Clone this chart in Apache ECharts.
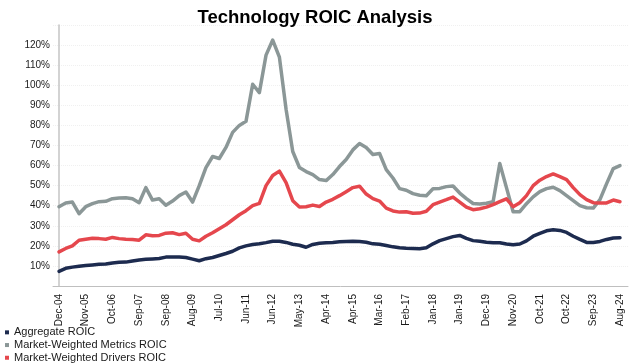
<!DOCTYPE html>
<html>
<head>
<meta charset="utf-8">
<script src="https://cdn.jsdelivr.net/npm/echarts@6/dist/echarts.min.js"></script>
<style>html,body{margin:0;padding:0;background:#fff;}#c{width:630px;height:363px;}</style>
</head>
<body>
<div id="c"></div>
<script>
var tickLabels = ['Dec-04','Nov-05','Oct-06','Sep-07','Sep-08','Aug-09','Jul-10','Jun-11','Jun-12','May-13','Apr-14','Apr-15','Mar-16','Feb-17','Jan-18','Jan-19','Dec-19','Nov-20','Oct-21','Oct-22','Sep-23','Aug-24'];
var pointsPerTick = 4;

var aggregateROIC = [
  7.3, 8.8, 9.4, 9.8, 10.2, 10.5, 10.8, 11.0, 11.5, 11.8,
  11.9, 12.5, 13.0, 13.3, 13.5, 13.7, 14.4, 14.5, 14.5, 14.2,
  13.4, 12.6, 13.6, 14.2, 15.2, 16.2, 17.3, 19.0, 20.0, 20.7,
  21.0, 21.6, 22.3, 22.3, 21.7, 20.8, 20.3, 19.3, 20.7, 21.3,
  21.5, 21.7, 22.0, 22.2, 22.3, 22.2, 21.8, 21.0, 20.8, 20.2,
  19.5, 19.0, 18.8, 18.7, 18.6, 19.0, 21.0, 22.6, 23.6, 24.6,
  25.2, 23.7, 22.6, 22.3, 21.8, 21.6, 21.5, 20.9, 20.5, 20.9,
  22.5, 24.8, 26.2, 27.5, 28.0, 27.7, 26.7, 24.8, 23.2, 21.7,
  21.7, 22.2, 23.2, 23.9, 24.0
];
var metricsROIC = [
  39.5, 41.3, 41.8, 36.0, 39.5, 41.0, 42.0, 42.2, 43.5, 43.8,
  44.0, 43.5, 41.5, 49.0, 42.8, 43.5, 40.2, 42.3, 45.0, 46.8,
  41.8, 50.0, 59.0, 64.5, 63.5, 69.0, 76.5, 80.0, 82.0, 100.5,
  96.3, 115.0, 122.5, 114.0, 88.0, 67.0, 59.0, 57.0, 55.5, 53.0,
  52.5, 55.5, 59.5, 63.0, 67.8, 71.0, 69.0, 65.5, 66.0, 58.0,
  53.8, 48.5, 47.7, 46.0, 45.2, 45.0, 48.4, 48.6, 49.5, 49.8,
  46.3, 43.5, 41.1, 40.9, 41.2, 42.0, 61.0, 49.0, 37.0, 37.0,
  41.0, 44.4, 47.0, 48.5, 49.2, 47.5, 45.0, 42.5, 40.0, 39.0,
  38.8, 43.0, 51.0, 58.5, 60.0
];
var driversROIC = [
  17.0, 18.7, 20.0, 22.8, 23.3, 23.8, 23.6, 23.3, 24.2, 23.6,
  23.3, 23.2, 22.8, 25.5, 25.0, 25.2, 26.3, 26.5, 25.6, 26.3,
  23.3, 22.5, 24.8, 26.5, 28.5, 30.5, 33.0, 35.5, 37.5, 40.0,
  41.2, 50.0, 55.0, 57.2, 51.5, 42.5, 39.3, 39.5, 40.3, 39.6,
  41.8, 43.2, 45.0, 47.0, 49.0, 49.7, 45.8, 43.5, 42.3, 38.8,
  37.4, 36.8, 37.0, 36.2, 36.3, 37.2, 40.5, 41.8, 43.0, 44.3,
  41.8, 39.3, 38.0, 38.5, 39.3, 40.5, 42.0, 43.4, 39.5, 41.5,
  45.0, 50.0, 52.7, 54.5, 55.8, 54.5, 53.0, 49.0, 45.5, 43.0,
  41.5, 41.4, 41.4, 42.8, 42.0
];

function pairs(arr){ return arr.map(function(v,i){ return [i, v]; }); }
var tickPositions = tickLabels.map(function(_, k){ return k * pointsPerTick; });

var FONT = 'Liberation Sans, Arial, sans-serif';
var chart = echarts.init(document.getElementById('c'), null, {renderer:'canvas'});
chart.setOption({
  animation: false,
  backgroundColor: '#ffffff',
  title: {
    text: 'Technology ROIC Analysis',
    left: 'center', top: 3,
    textStyle: {fontFamily: FONT, fontSize: 18.5, fontWeight: 'bold', color: '#000'}
  },
  legend: {
    orient: 'vertical', left: 5, top: 326, height: 60, padding: 0,
    itemWidth: 4, itemHeight: 4, itemGap: 0,
    icon: 'rect',
    textStyle: {fontFamily: FONT, fontSize: 11, color: '#1a1a1a', lineHeight: 12.7},
    data: ['Aggregate ROIC', 'Market-Weighted Metrics ROIC', 'Market-Weighted Drivers ROIC']
  },
  grid: {left: 53, right: 2, top: 25, bottom: 77, containLabel: false},
  xAxis: {
    type: 'value', min: -0.9, max: 85.2,
    axisLine: {show: true, lineStyle: {color: '#bfbfbf', width: 1}},
    axisTick: {show: false},
    splitLine: {show: false},
    axisLabel: {
      customValues: tickPositions,
      rotate: 90, margin: 8,
      fontFamily: FONT, fontSize: 10, color: '#1a1a1a',
      formatter: function(v){ var k = Math.round(v / pointsPerTick); return tickLabels[k] || ''; }
    }
  },
  yAxis: {
    type: 'value', min: 0, max: 130, interval: 10,
    axisLine: {show: true, lineStyle: {color: '#c4c4c4', width: 1.5}},
    axisTick: {show: false},
    splitLine: {show: true, lineStyle: {color: '#f0f0f0', type: 'dotted', width: 1}},
    axisLabel: {
      margin: 3, fontFamily: FONT, fontSize: 10, color: '#1a1a1a',
      formatter: function(v){ return (v === 0 || v === 130) ? '' : v + '%'; }
    }
  },
  series: [
    {name: 'Aggregate ROIC', type: 'line', data: pairs(aggregateROIC), showSymbol: false,
     lineStyle: {width: 3.5, color: '#1d2b4f', join: 'round', cap: 'round'}, itemStyle: {color: '#1d2b4f'}},
    {name: 'Market-Weighted Metrics ROIC', type: 'line', data: pairs(metricsROIC), showSymbol: false,
     lineStyle: {width: 3.5, color: '#8b9797', join: 'round', cap: 'round'}, itemStyle: {color: '#8b9797'}},
    {name: 'Market-Weighted Drivers ROIC', type: 'line', data: pairs(driversROIC), showSymbol: false,
     lineStyle: {width: 3.5, color: '#e5474d', join: 'round', cap: 'round'}, itemStyle: {color: '#e5474d'}}
  ]
});
</script>
</body>
</html>
